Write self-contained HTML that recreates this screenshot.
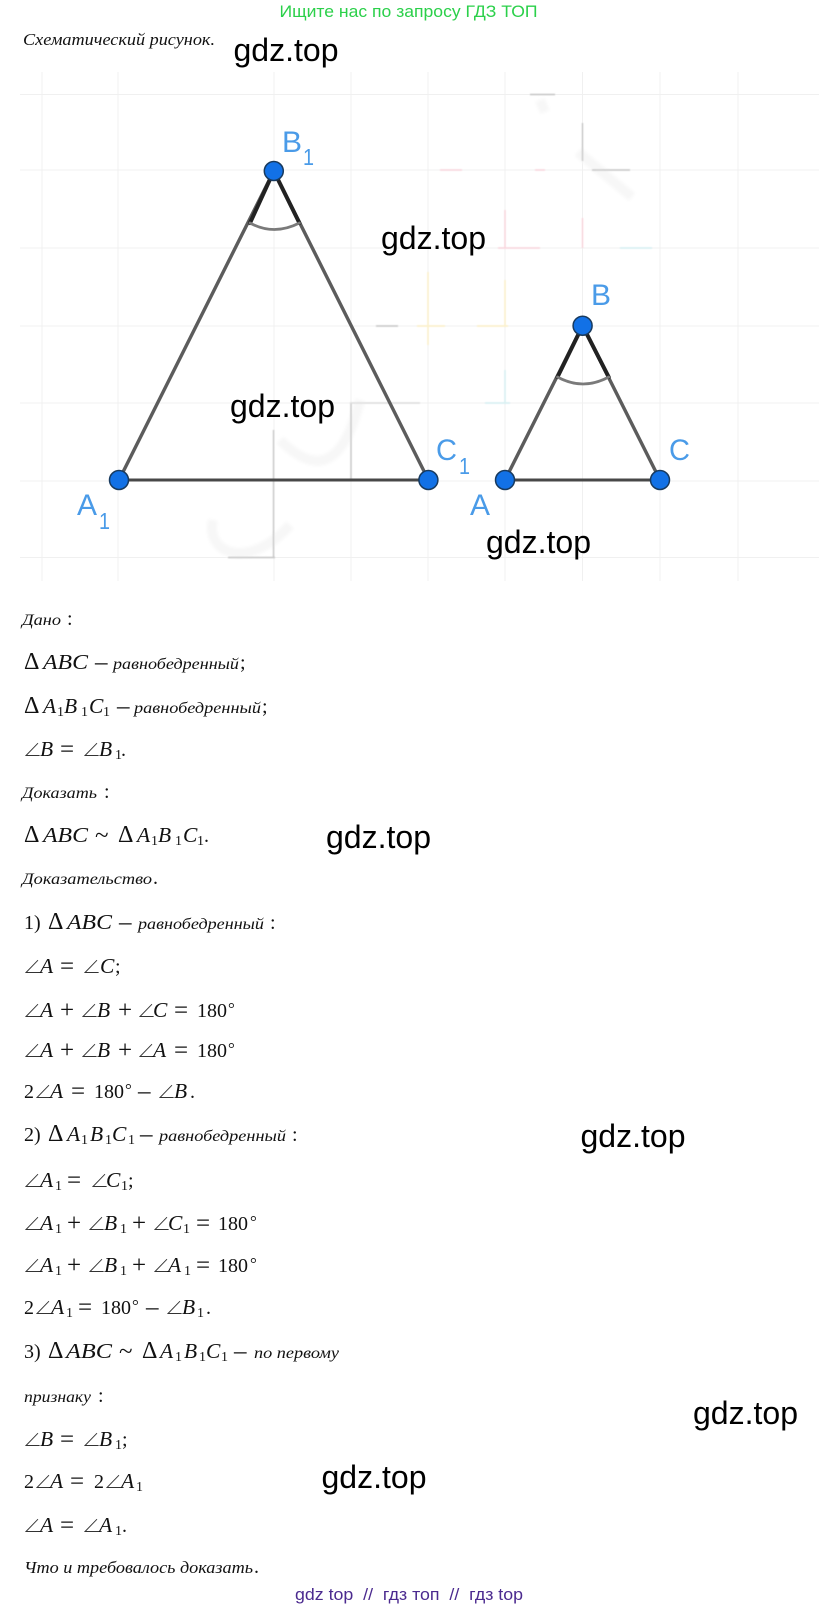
<!DOCTYPE html>
<html><head><meta charset="utf-8"><style>
html,body{margin:0;padding:0;background:#fff;width:819px;height:1609px;overflow:hidden}
svg{display:block;position:absolute;left:0;top:0}
text{font-family:"Liberation Serif",serif;fill:#111}
.i{font-style:italic;font-size:21.5px}
.r{font-size:20px}
.s{font-size:14px}
.t{font-size:24px}
.o{font-size:25px;transform:translateY(1px)}
.e{font-size:17px}
.d{font-size:19px;font-family:"Noto Sans CJK JP",sans-serif;fill:#333;font-weight:300}
.c{font-style:italic;font-size:15.5px}
.w{font-family:"Liberation Sans",sans-serif;font-size:32px;fill:#000}
.l{font-family:"Liberation Sans",sans-serif;font-size:30px;fill:#4a9be8}
.u{font-family:"Liberation Sans",sans-serif;font-size:23px;fill:#4a9be8}
</style></head><body>
<svg width="819" height="1609" viewBox="0 0 819 1609" xmlns="http://www.w3.org/2000/svg">
<defs><filter id="b"><feGaussianBlur stdDeviation="1.6"/></filter><filter id="b2"><feGaussianBlur stdDeviation="0.6"/></filter></defs>
<!-- grid -->
<g stroke="#f0f0f0" stroke-width="1" fill="none">
<path d="M42 72V581M118 72V581M274 72V581M351 72V581M428 72V581M505 72V581M582.5 72V581M660 72V581M738 72V581"/>
<path d="M20 94.5H819M20 170H819M20 248H819M20 326H819M20 403H819M20 481H819M20 557.5H819"/>
</g>
<g fill="none" filter="url(#b)">
<path d="M213 520C205 555 250 570 290 525M280 440C320 480 345 460 360 400M578 152L632 197M540 100L545 112" stroke="#f7f7f7" stroke-width="10"/>
</g>
<g fill="none" stroke-width="1.4" filter="url(#b2)">
<path d="M273.5 430V558M351 403V480M228 557.5H275M582.5 123V161M592 170H630M530 94.5H555M376 326H398" stroke="#c8c8c8"/>
<path d="M350 403H420" stroke="#dedede"/>
<path d="M440 170H462M535 170H545M505 210V248M498 248H540M582.5 218V248" stroke="#fbd5dd"/>
<path d="M620 248H652M505 370V403M485 403H510" stroke="#d6f0f3"/>
<path d="M428 272V345M505 280V326M417 326H445M477 326H508" stroke="#fdf1c8"/>
</g>
<!-- triangles -->
<g fill="none" stroke-linecap="round">
<path d="M119 480L273.8 171L428.4 480" stroke="#5c5c5c" stroke-width="3.4"/>
<path d="M119 480H428" stroke="#484848" stroke-width="3"/>
<path d="M218 480H285M300 480H360" stroke="#333" stroke-width="4" filter="url(#b2)"/>
<path d="M250 223L273.8 171L299.4 223" stroke="#222" stroke-width="4"/>
<path d="M250 223Q274 236 299.4 223" stroke="#7a7a7a" stroke-width="2.8"/>
<path d="M505 480L582.6 325.7L660 480" stroke="#5c5c5c" stroke-width="3.4"/>
<path d="M505 480H660" stroke="#484848" stroke-width="3"/>
<path d="M557.5 377L582.6 325.7L608.7 377" stroke="#222" stroke-width="4"/>
<path d="M557.5 377Q583 391 608.7 377" stroke="#7a7a7a" stroke-width="2.8"/>
</g>
<g fill="#1271e6" stroke="#183a5e" stroke-width="1.5">
<circle cx="273.8" cy="171" r="9.5"/><circle cx="119" cy="480" r="9.5"/><circle cx="428.4" cy="480" r="9.5"/>
<circle cx="582.6" cy="325.7" r="9.5"/><circle cx="505" cy="480" r="9.5"/><circle cx="660" cy="480" r="9.5"/>
</g>
<text class="l" x="282" y="152" textLength="20" lengthAdjust="spacingAndGlyphs">B</text><text class="u" x="303" y="165" textLength="11" lengthAdjust="spacingAndGlyphs">1</text>
<text class="l" x="77" y="515" textLength="20" lengthAdjust="spacingAndGlyphs">A</text><text class="u" x="99" y="529" textLength="11" lengthAdjust="spacingAndGlyphs">1</text>
<text class="l" x="436" y="460" textLength="21" lengthAdjust="spacingAndGlyphs">C</text><text class="u" x="459" y="474" textLength="11" lengthAdjust="spacingAndGlyphs">1</text>
<text class="l" x="591" y="305" textLength="20" lengthAdjust="spacingAndGlyphs">B</text>
<text class="l" x="470" y="515" textLength="20" lengthAdjust="spacingAndGlyphs">A</text>
<text class="l" x="669" y="460" textLength="21" lengthAdjust="spacingAndGlyphs">C</text>

<!-- top -->
<text x="279.5" y="17" textLength="258" lengthAdjust="spacingAndGlyphs" style="font-family:'Liberation Sans',sans-serif;font-size:16.5px;fill:#2bd04a">Ищите нас по запросу ГДЗ ТОП</text>
<text class="c" x="23" y="45" textLength="192" lengthAdjust="spacingAndGlyphs" style="font-size:16.5px">Схематический рисунок.</text>

<!-- Дано -->
<text class="c" x="22" y="625" textLength="39" lengthAdjust="spacingAndGlyphs">Дано</text><text class="r" x="67" y="625">:</text>

<text class="t" x="24" y="669">Δ</text><text class="i" x="43" y="669" textLength="45" lengthAdjust="spacingAndGlyphs">ABC</text><text class="o" x="95" y="669">–</text><text class="c" x="113" y="669" textLength="126" lengthAdjust="spacingAndGlyphs">равнобедренный</text><text class="r" x="240" y="669">;</text>

<text class="t" x="24" y="713">Δ</text><text class="i" x="43" y="713">A</text><text class="s" x="57" y="716">1</text><text class="i" x="64" y="713">B</text><text class="s" x="81" y="716">1</text><text class="i" x="89" y="713">C</text><text class="s" x="103" y="716">1</text><text class="o" x="117" y="713">–</text><text class="c" x="134" y="713" textLength="127" lengthAdjust="spacingAndGlyphs">равнобедренный</text><text class="r" x="262" y="713">;</text>

<text class="d" x="23" y="756">∠</text><text class="i" x="40" y="756">B</text><text class="o" x="60" y="756">=</text><text class="d" x="82" y="756">∠</text><text class="i" x="99" y="756">B</text><text class="s" x="115" y="759">1</text><text class="r" x="121" y="756">.</text>

<text class="c" x="22" y="798" textLength="75" lengthAdjust="spacingAndGlyphs">Доказать</text><text class="r" x="104" y="798">:</text>

<text class="t" x="24" y="842">Δ</text><text class="i" x="43" y="842" textLength="45" lengthAdjust="spacingAndGlyphs">ABC</text><text class="o" x="95" y="842">~</text><text class="t" x="118" y="842">Δ</text><text class="i" x="137" y="842">A</text><text class="s" x="151" y="845">1</text><text class="i" x="158" y="842">B</text><text class="s" x="175" y="845">1</text><text class="i" x="183" y="842">C</text><text class="s" x="197" y="845">1</text><text class="r" x="204" y="842">.</text>

<text class="c" x="22" y="884" textLength="130" lengthAdjust="spacingAndGlyphs">Доказательство</text><text class="r" x="153" y="884">.</text>

<text class="r" x="24" y="929">1)</text><text class="t" x="48" y="929">Δ</text><text class="i" x="67" y="929" textLength="45" lengthAdjust="spacingAndGlyphs">ABC</text><text class="o" x="119" y="929">–</text><text class="c" x="138" y="929" textLength="126" lengthAdjust="spacingAndGlyphs">равнобедренный</text><text class="r" x="270" y="929">:</text>

<text class="d" x="23" y="973">∠</text><text class="i" x="40" y="973">A</text><text class="o" x="60" y="973">=</text><text class="d" x="82" y="973">∠</text><text class="i" x="100" y="973">C</text><text class="r" x="115" y="973">;</text>

<text class="d" x="23" y="1017">∠</text><text class="i" x="40" y="1017">A</text><text class="o" x="60" y="1017">+</text><text class="d" x="80" y="1017">∠</text><text class="i" x="97" y="1017">B</text><text class="o" x="118" y="1017">+</text><text class="d" x="137" y="1017">∠</text><text class="i" x="153" y="1017">C</text><text class="o" x="174" y="1017">=</text><text class="r" x="197" y="1017">180</text><text class="e" x="228" y="1014">°</text>

<text class="d" x="23" y="1057">∠</text><text class="i" x="40" y="1057">A</text><text class="o" x="60" y="1057">+</text><text class="d" x="80" y="1057">∠</text><text class="i" x="97" y="1057">B</text><text class="o" x="118" y="1057">+</text><text class="d" x="137" y="1057">∠</text><text class="i" x="153" y="1057">A</text><text class="o" x="174" y="1057">=</text><text class="r" x="197" y="1057">180</text><text class="e" x="228" y="1054">°</text>

<text class="r" x="24" y="1098">2</text><text class="d" x="34" y="1098">∠</text><text class="i" x="50" y="1098">A</text><text class="o" x="71" y="1098">=</text><text class="r" x="94" y="1098">180</text><text class="e" x="125" y="1095">°</text><text class="o" x="138" y="1098">–</text><text class="d" x="157" y="1098">∠</text><text class="i" x="174" y="1098">B</text><text class="r" x="190" y="1098">.</text>

<text class="r" x="24" y="1141">2)</text><text class="t" x="48" y="1141">Δ</text><text class="i" x="67" y="1141">A</text><text class="s" x="81" y="1144">1</text><text class="i" x="90" y="1141">B</text><text class="s" x="105" y="1144">1</text><text class="i" x="112" y="1141">C</text><text class="s" x="128" y="1144">1</text><text class="o" x="140" y="1141">–</text><text class="c" x="159" y="1141" textLength="127" lengthAdjust="spacingAndGlyphs">равнобедренный</text><text class="r" x="292" y="1141">:</text>

<text class="d" x="23" y="1187">∠</text><text class="i" x="40" y="1187">A</text><text class="s" x="55" y="1190">1</text><text class="o" x="67" y="1187">=</text><text class="d" x="90" y="1187">∠</text><text class="i" x="106" y="1187">C</text><text class="s" x="121" y="1190">1</text><text class="r" x="128" y="1187">;</text>

<text class="d" x="23" y="1230">∠</text><text class="i" x="40" y="1230">A</text><text class="s" x="55" y="1233">1</text><text class="o" x="67" y="1230">+</text><text class="d" x="87" y="1230">∠</text><text class="i" x="104" y="1230">B</text><text class="s" x="120" y="1233">1</text><text class="o" x="132" y="1230">+</text><text class="d" x="152" y="1230">∠</text><text class="i" x="168" y="1230">C</text><text class="s" x="183" y="1233">1</text><text class="o" x="196" y="1230">=</text><text class="r" x="218" y="1230">180</text><text class="e" x="250" y="1227">°</text>

<text class="d" x="23" y="1272">∠</text><text class="i" x="40" y="1272">A</text><text class="s" x="55" y="1275">1</text><text class="o" x="67" y="1272">+</text><text class="d" x="87" y="1272">∠</text><text class="i" x="104" y="1272">B</text><text class="s" x="120" y="1275">1</text><text class="o" x="132" y="1272">+</text><text class="d" x="152" y="1272">∠</text><text class="i" x="168" y="1272">A</text><text class="s" x="184" y="1275">1</text><text class="o" x="196" y="1272">=</text><text class="r" x="218" y="1272">180</text><text class="e" x="250" y="1269">°</text>

<text class="r" x="24" y="1314">2</text><text class="d" x="34" y="1314">∠</text><text class="i" x="51" y="1314">A</text><text class="s" x="66" y="1317">1</text><text class="o" x="78" y="1314">=</text><text class="r" x="101" y="1314">180</text><text class="e" x="132" y="1311">°</text><text class="o" x="146" y="1314">–</text><text class="d" x="165" y="1314">∠</text><text class="i" x="182" y="1314">B</text><text class="s" x="197" y="1317">1</text><text class="r" x="206" y="1314">.</text>

<text class="r" x="24" y="1358">3)</text><text class="t" x="48" y="1358">Δ</text><text class="i" x="66" y="1358" textLength="46" lengthAdjust="spacingAndGlyphs">ABC</text><text class="o" x="119" y="1358">~</text><text class="t" x="142" y="1358">Δ</text><text class="i" x="160" y="1358">A</text><text class="s" x="175" y="1361">1</text><text class="i" x="184" y="1358">B</text><text class="s" x="199" y="1361">1</text><text class="i" x="206" y="1358">C</text><text class="s" x="221" y="1361">1</text><text class="o" x="234" y="1358">–</text><text class="c" x="254" y="1358" textLength="85" lengthAdjust="spacingAndGlyphs">по первому</text>

<text class="c" x="24" y="1402" textLength="67" lengthAdjust="spacingAndGlyphs">признаку</text><text class="r" x="98" y="1402">:</text>

<text class="d" x="23" y="1446">∠</text><text class="i" x="40" y="1446">B</text><text class="o" x="60" y="1446">=</text><text class="d" x="82" y="1446">∠</text><text class="i" x="99" y="1446">B</text><text class="s" x="115" y="1449">1</text><text class="r" x="122" y="1446">;</text>

<text class="r" x="24" y="1488">2</text><text class="d" x="34" y="1488">∠</text><text class="i" x="50" y="1488">A</text><text class="o" x="70" y="1488">=</text><text class="r" x="94" y="1488">2</text><text class="d" x="104" y="1488">∠</text><text class="i" x="121" y="1488">A</text><text class="s" x="136" y="1491">1</text>

<text class="d" x="23" y="1532">∠</text><text class="i" x="40" y="1532">A</text><text class="o" x="60" y="1532">=</text><text class="d" x="82" y="1532">∠</text><text class="i" x="99" y="1532">A</text><text class="s" x="115" y="1535">1</text><text class="r" x="122" y="1532">.</text>

<text class="c" x="24" y="1573" textLength="229" lengthAdjust="spacingAndGlyphs" style="font-size:16.5px">Что и требовалось доказать</text><text class="r" x="254" y="1573">.</text>

<text x="295" y="1600" textLength="228" lengthAdjust="spacingAndGlyphs" style="font-family:'Liberation Sans',sans-serif;font-size:16.5px;fill:#4b2a8f" xml:space="preserve">gdz top  //  гдз топ  //  гдз top</text>

<!-- watermarks -->
<text class="w" x="233.5" y="61" textLength="105" lengthAdjust="spacingAndGlyphs">gdz.top</text>
<text class="w" x="381" y="249" textLength="105" lengthAdjust="spacingAndGlyphs">gdz.top</text>
<text class="w" x="230" y="417" textLength="105" lengthAdjust="spacingAndGlyphs">gdz.top</text>
<text class="w" x="486" y="553" textLength="105" lengthAdjust="spacingAndGlyphs">gdz.top</text>
<text class="w" x="326" y="848" textLength="105" lengthAdjust="spacingAndGlyphs">gdz.top</text>
<text class="w" x="580.5" y="1147" textLength="105" lengthAdjust="spacingAndGlyphs">gdz.top</text>
<text class="w" x="693" y="1424" textLength="105" lengthAdjust="spacingAndGlyphs">gdz.top</text>
<text class="w" x="321.5" y="1488" textLength="105" lengthAdjust="spacingAndGlyphs">gdz.top</text>
</svg>
</body></html>
